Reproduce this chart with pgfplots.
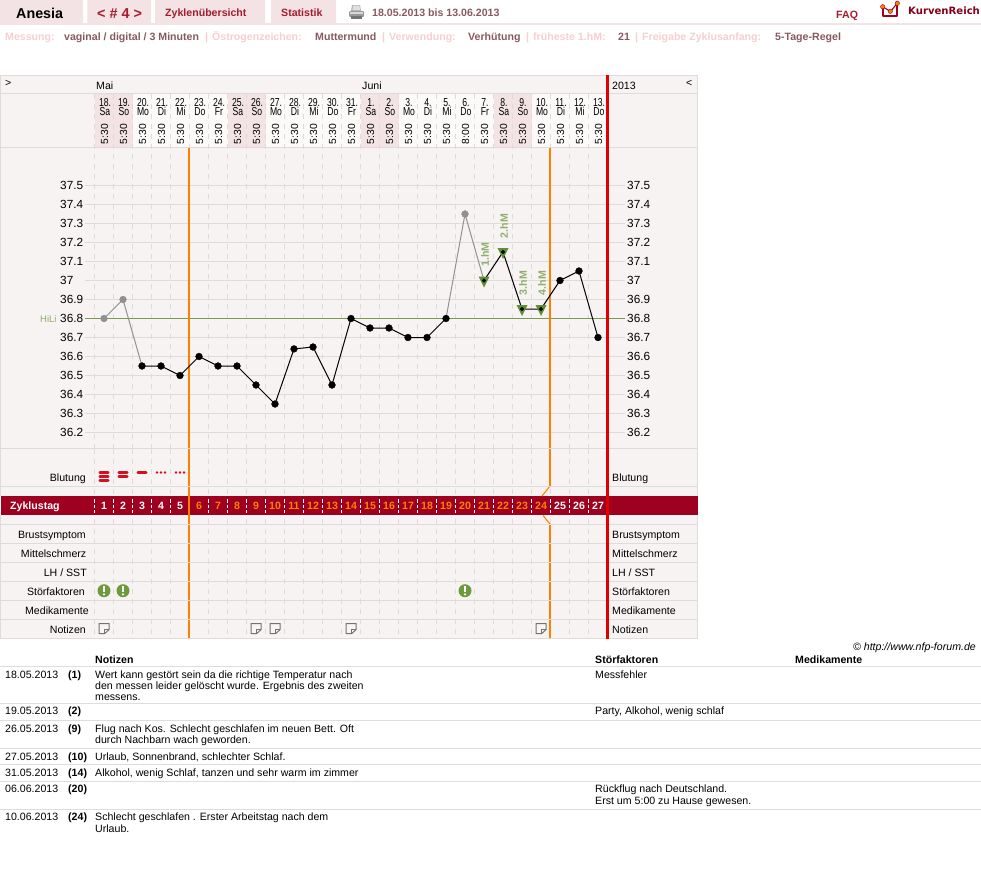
\documentclass[border=0pt]{standalone}
\usepackage{pgfplots}
\usepackage{pgfplotstable}
\pgfplotsset{compat=1.18}
\usepackage{fontspec}
\setmainfont{Liberation Sans}
\newfontfamily\narrowf[FakeStretch=0.75]{Liberation Sans}
\newfontfamily\logof{DejaVu Sans}
\usetikzlibrary{calc}
\definecolor{panel}{HTML}{F8F3F3}
\definecolor{cellw}{HTML}{FCF9F9}
\definecolor{tabbg}{HTML}{F3E3E4}
\definecolor{gridc}{HTML}{DFDBD9}
\definecolor{barc}{HTML}{9E0020}
\definecolor{orng}{HTML}{FF8000}
\definecolor{redl}{HTML}{E00000}
\definecolor{tabtx}{HTML}{A61C2E}
\definecolor{mutex}{HTML}{875A60}
\definecolor{pinkl}{HTML}{F6CFD0}
\definecolor{hmgreen}{HTML}{5F8F2F}
\definecolor{hmtext}{HTML}{8FAE6B}
\definecolor{greenl}{HTML}{7A9A50}
\definecolor{tblline}{HTML}{DDDDDD}
\definecolor{icong}{HTML}{6C9A3C}
\definecolor{bloodc}{HTML}{D40F1F}
\definecolor{greyd}{HTML}{909090}
\definecolor{notef}{HTML}{F8F6F2}
\newcommand{\fa}{\fontsize{10.6pt}{12pt}\selectfont}
\newcommand{\fb}{\fontsize{10.6pt}{12pt}\selectfont\bfseries}
% text helpers: baseline position in image pixels
\newcommand{\T}[3]{\node[anchor=base west,inner sep=0pt,font=\fa] at (#1,#2) {#3};}
\newcommand{\B}[3]{\node[anchor=base west,inner sep=0pt,font=\fb] at (#1,#2) {#3};}
\newcommand{\R}[3]{\node[anchor=base east,inner sep=0pt,font=\fa] at (#1,#2) {#3};}
% plot marks
\pgfdeclareplotmark{hmtri}{\pgfpathmoveto{\pgfpoint{-5.5pt}{4pt}}\pgfpathlineto{\pgfpoint{5.5pt}{4pt}}\pgfpathlineto{\pgfpoint{0pt}{-7pt}}\pgfpathclose\pgfusepathqfill}
\pgfdeclareplotmark{blbar}{\pgfsetroundcap\pgfsetlinewidth{2.6pt}\pgfpathmoveto{\pgfpoint{-4.2pt}{0pt}}\pgfpathlineto{\pgfpoint{4.2pt}{0pt}}\pgfusepathqstroke}
\pgfdeclareplotmark{bldot}{\pgfpathcircle{\pgfpoint{-4pt}{0pt}}{1.3pt}\pgfpathcircle{\pgfpoint{0pt}{0pt}}{1.3pt}\pgfpathcircle{\pgfpoint{4pt}{0pt}}{1.3pt}\pgfusepathqfill}
\pgfdeclareplotmark{stoer}{\pgfsetfillcolor{icong}\pgfpathcircle{\pgfpoint{0pt}{0pt}}{6.5pt}\pgfusepathqfill
 \pgfsetfillcolor{white}\pgfpathrectangle{\pgfpoint{-1.2pt}{-1.2pt}}{\pgfpoint{2.4pt}{5.6pt}}\pgfusepathqfill
 \pgfpathcircle{\pgfpoint{0pt}{-3.6pt}}{1.3pt}\pgfusepathqfill}
\pgfdeclareplotmark{noteic}{\pgfsetlinewidth{1pt}\pgfsetstrokecolor{black!55}\pgfsetfillcolor{notef}
 \pgfpathmoveto{\pgfpoint{-5pt}{5pt}}\pgfpathlineto{\pgfpoint{5pt}{5pt}}\pgfpathlineto{\pgfpoint{5pt}{-1pt}}\pgfpathlineto{\pgfpoint{0.5pt}{-5pt}}\pgfpathlineto{\pgfpoint{-5pt}{-5pt}}\pgfpathclose\pgfusepath{fill,stroke}
 \pgfpathmoveto{\pgfpoint{5pt}{-1pt}}\pgfpathlineto{\pgfpoint{0.5pt}{-1pt}}\pgfpathlineto{\pgfpoint{0.5pt}{-5pt}}\pgfusepathqstroke}
\pgfplotsset{chartbase/.style={scale only axis,width=540pt,xmin=0,xmax=28.42105,clip=false,
   axis line style={draw=none},tick style={draw=none},xticklabels={},
   xtick={0.5,1.5,...,27.5}},
  tempaxis/.style={chartbase,height=300.5pt,ymin=36.11579,ymax=37.69737,at={(85pt,-448.5pt)},anchor=south west,
   ytick={36.2,36.3,36.4,36.5,36.6,36.7,36.8,36.9,37,37.1,37.2,37.3,37.4,37.5},
   /pgf/number format/assume math mode=true,/pgf/number format/fixed,/pgf/number format/precision=1,
   yticklabel style={font=\fontsize{11.8pt}{12pt}\selectfont,anchor=west,inner sep=0pt}},
  rowaxis/.style={chartbase,height=190pt,ymin=448.5,ymax=638.5,y dir=reverse,at={(85pt,-638.5pt)},anchor=south west,ytick=\empty}}
\begin{document}
\begin{tikzpicture}[x=1pt,y=-1pt]
\path[use as bounding box,fill=white] (0,0) rectangle (981,889);
% ---------- top bar
\fill[tabbg] (0,0) rectangle (83,23.3) (87.3,0) rectangle (151,23.3) (155,0) rectangle (265,23.3) (271,0) rectangle (336,23.3);
\fill[tabbg] (0,23.3) rectangle (981,25);
\node[anchor=base west,inner sep=0pt,font=\fontsize{14.3pt}{15pt}\selectfont\bfseries] at (16,18) {Anesia};
\node[anchor=base west,inner sep=0pt,font=\fontsize{14.4pt}{15pt}\selectfont\bfseries,text=tabtx] at (97,18) {< \# 4 >};
\node[anchor=base west,inner sep=0pt,font=\fb,text=tabtx] at (165,16.5) {Zyklenübersicht};
\node[anchor=base west,inner sep=0pt,font=\fb,text=tabtx] at (281,16.5) {Statistik};
\node[anchor=base west,inner sep=0pt,font=\fb,text=mutex] at (372,16.5) {18.05.2013 bis 13.06.2013};
\node[anchor=base west,inner sep=0pt,font=\fb,text=tabtx] at (836,18) {FAQ};
\node[anchor=base west,inner sep=0pt,font=\logof\fontsize{10.1pt}{11pt}\selectfont\bfseries,text=barc!85!black] at (908,14) {KurvenReich};
% printer icon
\fill[black!30] (352,5) -- (360,5) -- (361,11) -- (351,11) -- cycle;
\fill[black!12] (353,5.5) -- (359.5,5.5) -- (360,10) -- (352.5,10) -- cycle;
\fill[black!40,rounded corners=1pt] (349,11) rectangle (364,17);
\fill[black!55] (351,16) rectangle (362,19);
\fill[black!15] (350,12) rectangle (363,13.5);
% logo
\draw[barc,line width=1.1pt,line join=round] (883,7) -- (883,16) -- (897,16) -- (897,4);
\draw[barc,line width=1.1pt,line join=round] (883,7) -- (890.5,11.5) -- (897,3.5);
\fill[orng,draw=barc,line width=.4pt] (882.7,6.7) circle (2.2) (890.3,11.3) circle (2.2) (897.3,3.3) circle (2.2);
% ---------- status line
\foreach \x/\s in {5/Messung:,212/Östrogenzeichen:,389/Verwendung:,533/früheste 1.hM:,642/Freigabe Zyklusanfang:,205/|,382/|,526/|,635/|}
  \node[anchor=base west,inner sep=0pt,font=\fb,text=pinkl] at (\x,40) {\s};
\foreach \x/\s in {315/Muttermund,468/Verhütung,618/21,775/5-Tage-Regel}
  \node[anchor=base west,inner sep=0pt,font=\fb,text=mutex] at (\x,40) {\s};
\node[anchor=base west,inner sep=0pt,font=\fb,text=mutex] at (64,40) {vaginal / digital / 3 Minuten};
% ---------- chart panel
\fill[panel] (0.5,75) rectangle (697.5,638.5);
\fill[cellw] (94.5,93.5) rectangle (607.5,147.5);
\foreach \a in {0,7,14,21} \fill[tabbg] ({94.5+19*\a},93.5) rectangle ({94.5+19*(\a+2)},147.5);
\foreach \k in {0,...,26}
  \draw[gridc,dash pattern=on 5pt off 5pt,line width=1pt] ({94.5+19*\k},93.5) -- ({94.5+19*\k},147.5);
\draw[gridc,line width=1pt] (0,75.5) -- (697.5,75.5);
% month row
\node[anchor=base west,inner sep=0pt,font=\fa] at (5,86) {>};
\node[anchor=base west,inner sep=0pt,font=\fa] at (686,86) {<};
\T{96}{89}{Mai}
\T{362}{89}{Juni}
\T{612}{89}{2013}
% day headers
\foreach \i/\a/\b/\t in {1/18./Sa/5:30,2/19./So/5:30,3/20./Mo/5:30,4/21./Di/5:30,5/22./Mi/5:30,6/23./Do/5:30,7/24./Fr/5:30,8/25./Sa/5:30,9/26./So/5:30,10/27./Mo/5:30,11/28./Di/5:30,12/29./Mi/5:30,13/30./Do/5:30,14/31./Fr/5:30,15/1./Sa/5:30,16/2./So/5:30,17/3./Mo/5:30,18/4./Di/5:30,19/5./Mi/5:30,20/6./Do/8:00,21/7./Fr/5:30,22/8./Sa/5:30,23/9./So/5:30,24/10./Mo/5:30,25/11./Di/5:30,26/12./Mi/5:30,27/13./Do/5:30}{
  \node[anchor=base,inner sep=0pt,font=\narrowf\fontsize{11.5pt}{12pt}\selectfont] at ({105+19*(\i-1)},106) {\a};
  \node[anchor=base,inner sep=0pt,font=\narrowf\fontsize{11.5pt}{12pt}\selectfont] at ({105+19*(\i-1)},115.8) {\b};
  \node[rotate=90,inner sep=0pt,font=\fontsize{10.3pt}{11pt}\selectfont] at ({104.5+19*(\i-1)},134) {\t};
}
% ---------- temperature grid with left scale
\begin{axis}[tempaxis,ymajorgrids,xmajorgrids,
   y grid style={gridc,line width=1pt},
   x grid style={gridc,line width=1pt,dash pattern=on 5pt off 5pt},
   yticklabel style={xshift=-25pt}]
\addplot[greenl,line width=1pt,forget plot] coordinates {(0,36.8) (28.42105,36.8)};
\end{axis}
\node[anchor=base west,inner sep=0pt,font=\fontsize{9.5pt}{10pt}\selectfont,text=hmtext] at (40,322.3) {HiLi};
% ---------- grid of the rows below
\begin{axis}[rowaxis,xmajorgrids,x grid style={gridc,line width=1pt,dash pattern=on 5pt off 5pt}]
\end{axis}
% Zyklustag bar
\fill[barc] (1,496) rectangle (697.5,515);
\node[anchor=base west,inner sep=0pt,font=\fb,text=white] at (10,509.3) {Zyklustag};
\foreach \k in {0,...,26}
  \draw[white,dash pattern=on 3.5pt off 2pt,line width=1pt] ({94.5+19*\k},499) -- ({94.5+19*\k},513);
\foreach \d in {1,...,27}{
  \ifnum\d<6 \def\col{white}\else\ifnum\d>24 \def\col{white}\else\def\col{orng}\fi\fi
  \node[anchor=base,inner sep=0pt,font=\fb,text=\col] at ({104+19*(\d-1)},509.3) {\d};
}
% phase lines
\draw[orng,line width=2pt] (189,148) -- (189,638);
\draw[orng,line width=2pt] (550,148) -- (550,486);
\draw[orng,line width=1.1pt] (550,486) -- (542,496);
\draw[orng,line width=1.1pt] (543,515.5) -- (550,524);
\draw[orng,line width=2pt] (550,524) -- (550,638);
\draw[redl,line width=3pt] (607.5,75) -- (607.5,638.5);
% row borders
\foreach \y in {93.5,147.5,448.5,486.5,524.5,543.5,562.5,581.5,600.5,619.5,638.5}
  \draw[gridc,line width=1pt] (0.5,\y) -- (606,\y) (609,\y) -- (697.5,\y);
\draw[gridc,line width=1pt] (0.5,75) -- (0.5,496) (0.5,515) -- (0.5,638.5) (697.5,75) -- (697.5,496) (697.5,515) -- (697.5,638.5);
% row labels
\R{86}{481}{Blutung}
\R{86}{538.3}{Brustsymptom}
\R{86.5}{557.3}{Mittelschmerz}
\R{87}{576.3}{LH / SST}
\R{85}{595.3}{Störfaktoren}
\R{89}{614.3}{Medikamente}
\R{86}{633.3}{Notizen}
\T{612}{481}{Blutung}
\T{612}{538.3}{Brustsymptom}
\T{612}{557.3}{Mittelschmerz}
\T{612}{576.3}{LH / SST}
\T{612}{595.3}{Störfaktoren}
\T{612}{614.3}{Medikamente}
\T{612}{633.3}{Notizen}
% ---------- temperature data with right scale
\begin{axis}[tempaxis,yticklabel pos=right,yticklabel style={xshift=2pt}]
\addplot[only marks,mark=hmtri,mark options={fill=hmgreen,draw=none}] table {
day temp
21 37.0
22 37.15
23 36.85
24 36.85
};
\addplot[greyd,line width=1pt] table {
day temp
1 36.8
2 36.9
3 36.55
};
\addplot[greyd,line width=1pt] table {
day temp
19 36.8
20 37.35
21 37.0
};
\addplot[black,line width=1pt] table {
day temp
3 36.55
4 36.55
5 36.5
6 36.6
7 36.55
8 36.55
9 36.45
10 36.35
11 36.64
12 36.65
13 36.45
14 36.8
15 36.75
16 36.75
17 36.7
18 36.7
19 36.8
};
\addplot[black,line width=1pt] table {
day temp
21 37.0
22 37.15
23 36.85
24 36.85
25 37.0
26 37.05
27 36.7
};
\addplot[only marks,mark=*,mark size=3.4pt,mark options={fill=greyd,draw=greyd}] table {
day temp
1 36.8
2 36.9
20 37.35
};
\addplot[only marks,mark=*,mark size=3.4pt,mark options={fill=black,draw=black}] table {
day temp
3 36.55
4 36.55
5 36.5
6 36.6
7 36.55
8 36.55
9 36.45
10 36.35
11 36.64
12 36.65
13 36.45
14 36.8
15 36.75
16 36.75
17 36.7
18 36.7
19 36.8
25 37.0
26 37.05
27 36.7
};
\addplot[only marks,mark=*,mark size=1.8pt,mark options={fill=black,draw=black}] table {
day temp
21 37.0
22 37.15
23 36.85
24 36.85
};
\foreach \d/\v/\s in {21/37.0/1.hM,22/37.15/2.hM,23/36.85/3.hM,24/36.85/4.hM}{
  \edef\tmp{\noexpand\node[rotate=90,anchor=west,inner sep=0pt,font=\noexpand\fb,text=hmtext,xshift=13.5pt,yshift=-1pt] at (axis cs:\d,\v) {\s};}\tmp
}
\end{axis}
% ---------- event rows
\begin{axis}[rowaxis]
\addplot[only marks,mark=blbar,mark options={draw=bloodc}] table {
day row
1 472.7
1 476.5
1 480.6
2 472.4
2 476.2
3 472.3
};
\addplot[only marks,mark=bldot,mark options={fill=bloodc,draw=none}] table {
day row
4 472.5
5 472.5
};
\addplot[only marks,mark=stoer] table {
day row
1 590.7
2 590.7
20 590.7
};
\addplot[only marks,mark=noteic] table {
day row
1 628.7
9 628.7
10 628.7
14 628.7
24 628.7
};
\end{axis}
% ---------- notes table
\node[anchor=base east,inner sep=0pt,font=\fa\itshape] at (976,650) {© http://www.nfp-forum.de};
\B{95}{663.4}{Notizen}
\B{595}{663.4}{Störfaktoren}
\B{795}{663.4}{Medikamente}
\foreach \y in {666.5,703.5,720.5,748.5,764.5,781.5,809.5}
  \draw[tblline,line width=1pt] (0,\y) -- (981,\y);
\T{5}{678}{18.05.2013}\B{68}{678}{(1)}
\T{95}{678}{Wert kann gestört sein da die richtige Temperatur nach}
\T{95}{689.4}{den messen leider gelöscht wurde. Ergebnis des zweiten}
\T{95}{700.7}{messens.}
\T{595}{678}{Messfehler}
\T{5}{714.7}{19.05.2013}\B{68}{714.7}{(2)}
\T{595}{714.7}{Party, Alkohol, wenig schlaf}
\T{5}{732.2}{26.05.2013}\B{68}{732.2}{(9)}
\T{95}{732.2}{Flug nach Kos. Schlecht geschlafen im neuen Bett. Oft}
\T{95}{743.7}{durch Nachbarn wach geworden.}
\T{5}{760.2}{27.05.2013}\B{68}{760.2}{(10)}
\T{95}{760.2}{Urlaub, Sonnenbrand, schlechter Schlaf.}
\T{5}{776.4}{31.05.2013}\B{68}{776.4}{(14)}
\T{95}{776.4}{Alkohol, wenig Schlaf, tanzen und sehr warm im zimmer}
\T{5}{792.7}{06.06.2013}\B{68}{792.7}{(20)}
\T{595}{792.7}{Rückflug nach Deutschland.}
\T{595}{804.4}{Erst um 5:00 zu Hause gewesen.}
\T{5}{820.7}{10.06.2013}\B{68}{820.7}{(24)}
\T{95}{820.7}{Schlecht geschlafen . Erster Arbeitstag nach dem}
\T{95}{832.7}{Urlaub.}
\end{tikzpicture}
\end{document}
